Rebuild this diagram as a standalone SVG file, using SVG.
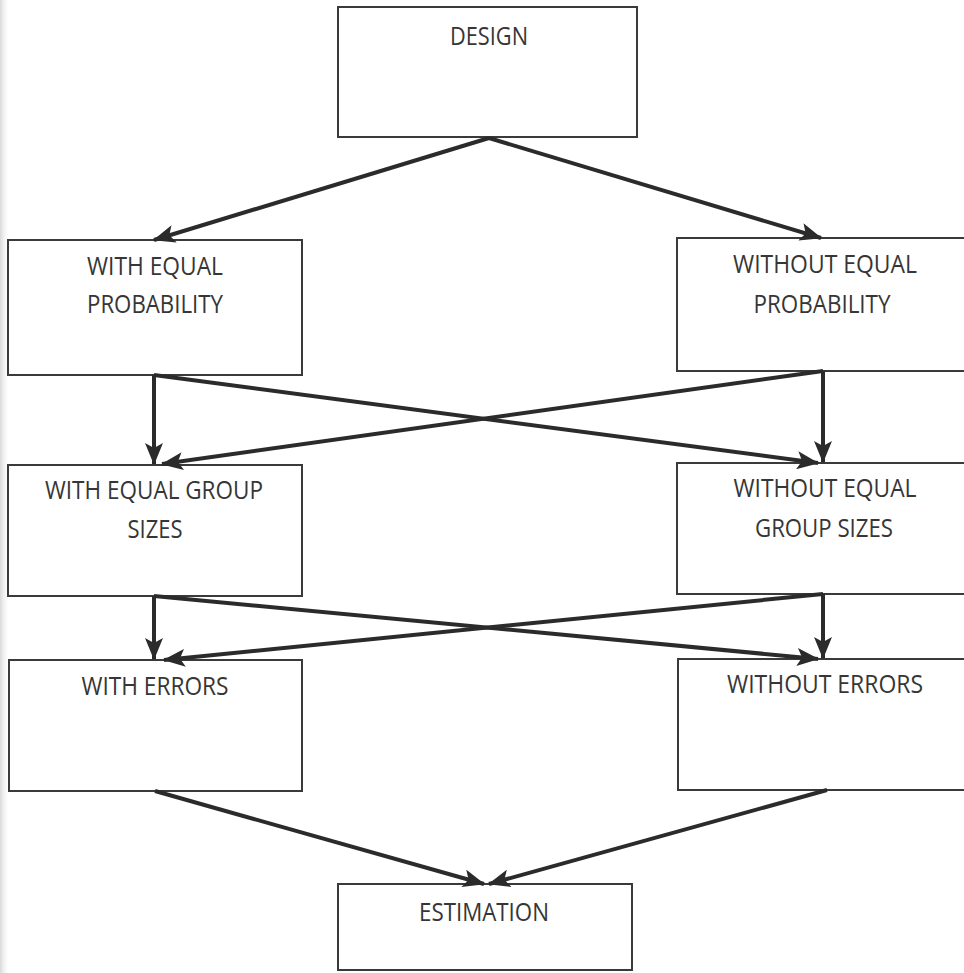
<svg xmlns="http://www.w3.org/2000/svg" width="964" height="973" viewBox="0 0 964 973">
  <style>
    .box { fill: #ffffff; stroke: #3a3a3a; stroke-width: 2; }
    .lbl { font-family: "Open Sans", "Liberation Sans", sans-serif; font-size: 25px; fill: #363636; text-anchor: middle; }
    .conn { stroke: #2b2b2b; stroke-width: 4; fill: none; }
  </style>
  <defs>
    <marker id="arr" markerUnits="userSpaceOnUse" markerWidth="22" markerHeight="18" viewBox="0 0 22 18" refX="21" refY="9" orient="auto">
      <path d="M0,0 L22,9 L0,18 L5,9 Z" fill="#2b2b2b"/>
    </marker>
    <linearGradient id="edge" x1="0" y1="0" x2="1" y2="0">
      <stop offset="0" stop-color="#d8d8d8"/>
      <stop offset="1" stop-color="#ffffff" stop-opacity="0"/>
    </linearGradient>
  </defs>
  <rect x="0" y="0" width="964" height="973" fill="#ffffff"/>
  <rect x="0" y="0" width="10" height="973" fill="url(#edge)"/>

  <g id="n-design">
    <rect class="box" x="338" y="7" width="299" height="130"/>
    <text class="lbl" x="489" y="45" textLength="78" lengthAdjust="spacingAndGlyphs">DESIGN</text>
  </g>
  <g id="n-with-eq-prob">
    <rect class="box" x="8" y="240" width="294" height="135"/>
    <text class="lbl" x="155" y="275" textLength="136" lengthAdjust="spacingAndGlyphs">WITH EQUAL</text>
    <text class="lbl" x="155" y="313" textLength="136" lengthAdjust="spacingAndGlyphs">PROBABILITY</text>
  </g>
  <g id="n-without-eq-prob">
    <rect class="box" x="677" y="238" width="300" height="133"/>
    <text class="lbl" x="825" y="273" textLength="184" lengthAdjust="spacingAndGlyphs">WITHOUT EQUAL</text>
    <text class="lbl" x="822" y="313" textLength="137" lengthAdjust="spacingAndGlyphs">PROBABILITY</text>
  </g>
  <g id="n-with-eq-group">
    <rect class="box" x="8" y="465" width="294" height="131"/>
    <text class="lbl" x="154" y="499" textLength="218" lengthAdjust="spacingAndGlyphs">WITH EQUAL GROUP</text>
    <text class="lbl" x="155" y="538" textLength="55" lengthAdjust="spacingAndGlyphs">SIZES</text>
  </g>
  <g id="n-without-eq-group">
    <rect class="box" x="677" y="463" width="300" height="131"/>
    <text class="lbl" x="825" y="497" textLength="183" lengthAdjust="spacingAndGlyphs">WITHOUT EQUAL</text>
    <text class="lbl" x="824" y="537" textLength="138" lengthAdjust="spacingAndGlyphs">GROUP SIZES</text>
  </g>
  <g id="n-with-errors">
    <rect class="box" x="9" y="660" width="293" height="131"/>
    <text class="lbl" x="155" y="695" textLength="147" lengthAdjust="spacingAndGlyphs">WITH ERRORS</text>
  </g>
  <g id="n-without-errors">
    <rect class="box" x="678" y="659" width="300" height="131"/>
    <text class="lbl" x="825" y="693" textLength="196" lengthAdjust="spacingAndGlyphs">WITHOUT ERRORS</text>
  </g>
  <g id="n-estimation">
    <rect class="box" x="338" y="884" width="294" height="86"/>
    <text class="lbl" x="484" y="921" textLength="130" lengthAdjust="spacingAndGlyphs">ESTIMATION</text>
  </g>

  <g id="connectors">
    <line class="conn" x1="489" y1="138" x2="154" y2="240" marker-end="url(#arr)"/>
    <line class="conn" x1="489" y1="138" x2="821" y2="238" marker-end="url(#arr)"/>

    <line class="conn" x1="154" y1="375" x2="154" y2="464" marker-end="url(#arr)"/>
    <line class="conn" x1="154" y1="375" x2="818" y2="463" marker-end="url(#arr)"/>
    <line class="conn" x1="823" y1="371" x2="823" y2="462" marker-end="url(#arr)"/>
    <line class="conn" x1="823" y1="371" x2="162" y2="464" marker-end="url(#arr)"/>

    <line class="conn" x1="154" y1="596" x2="154" y2="659" marker-end="url(#arr)"/>
    <line class="conn" x1="154" y1="596" x2="818" y2="659" marker-end="url(#arr)"/>
    <line class="conn" x1="823" y1="594" x2="823" y2="658" marker-end="url(#arr)"/>
    <line class="conn" x1="823" y1="594" x2="164" y2="660" marker-end="url(#arr)"/>

    <line class="conn" x1="155" y1="791" x2="484" y2="884" marker-end="url(#arr)"/>
    <line class="conn" x1="827" y1="790" x2="489" y2="884" marker-end="url(#arr)"/>
  </g>
</svg>
